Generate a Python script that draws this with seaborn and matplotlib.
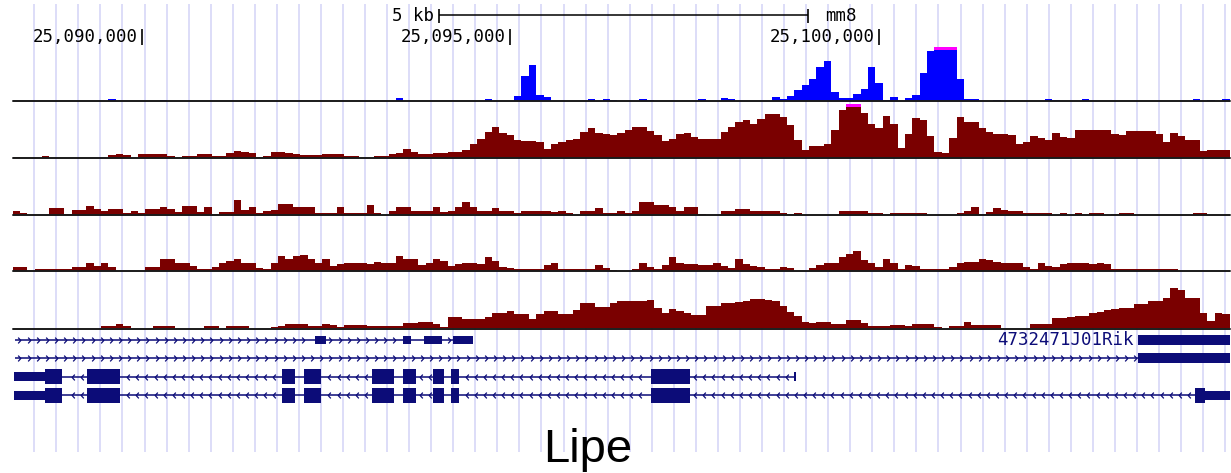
import numpy as np
import pandas as pd
import matplotlib
matplotlib.use("Agg")
import matplotlib.pyplot as plt
from matplotlib.path import Path
import seaborn as sns

# ---------------- data ----------------
chrom_start = 25_088_250          # left edge of the window (bp)
bin_size = 100                    # bp per signal bin
ruler_ticks = [25_090_000, 25_095_000, 25_100_000]
ruler_labels = ["25,090,000", "25,095,000", "25,100,000"]
scale_bar_start = 25_094_035
scale_bar_len = 5_000
scale_bar_label = "5 kb"
assembly = "mm8"
gene_label = "Lipe"
neighbor_label = "4732471J01Rik"

# peak-call track (blue), one value per 100 bp bin
peaks = [
    0, 0, 0, 0, 0, 0, 0, 0, 0, 0,
    0, 0, 0, 2, 0, 0, 0, 0, 0, 0,
    1, 0, 0, 0, 0, 0, 0, 0, 0, 0,
    0, 0, 0, 0, 0, 0, 0, 0, 0, 0,
    0, 0, 0, 0, 0, 0, 0, 0, 0, 0,
    0, 0, 3, 0, 0, 0, 0, 0, 0, 0,
    0, 0, 0, 0, 2, 0, 0, 0, 5, 25,
    36, 6, 4, 0, 0, 0, 0, 0, 2, 0,
    2, 1, 0, 0, 0, 2, 1, 0, 0, 0,
    0, 0, 0, 2, 0, 0, 3, 2, 0, 0,
    0, 0, 0, 4, 2, 5, 11, 16, 22, 34,
    40, 9, 3, 3, 7, 12, 34, 18, 1, 4,
    0, 3, 6, 28, 50, 60, 60, 60, 22, 2,
    2, 0, 0, 1, 0, 0, 0, 0, 0, 0,
    2, 1, 0, 0, 0, 2, 0, 0, 0, 0,
    0, 0, 0, 0, 0, 0, 0, 0, 0, 0,
    2, 0, 1, 0, 2,
]

# coverage tracks (dark red), same bins
signal_1 = [
    1, 0, 0, 0, 2, 0, 0, 0, 0, 0,
    0, 0, 0, 3, 4, 3, 0, 4, 4, 4,
    4, 2, 0, 2, 2, 4, 4, 2, 2, 5,
    7, 6, 5, 1, 2, 6, 6, 5, 4, 3,
    3, 3, 4, 4, 4, 2, 2, 0, 0, 2,
    2, 4, 5, 9, 6, 4, 4, 5, 5, 6,
    6, 8, 14, 19, 26, 31, 25, 23, 18, 17,
    17, 16, 9, 14, 16, 18, 19, 26, 30, 25,
    24, 23, 25, 28, 31, 31, 27, 23, 17, 19,
    24, 25, 21, 19, 19, 19, 26, 31, 36, 38,
    34, 39, 44, 44, 41, 33, 18, 8, 12, 12,
    14, 28, 48, 60, 60, 45, 34, 30, 42, 34,
    10, 24, 40, 38, 22, 6, 5, 20, 41, 36,
    36, 30, 26, 24, 24, 23, 14, 16, 22, 20,
    18, 25, 21, 20, 28, 28, 28, 28, 28, 24,
    23, 27, 27, 27, 27, 24, 16, 25, 22, 18,
    18, 7, 8, 8, 8,
]

signal_2 = [
    4, 2, 0, 0, 0, 7, 7, 1, 5, 5,
    9, 6, 4, 6, 6, 2, 4, 2, 6, 6,
    8, 6, 3, 9, 9, 3, 8, 1, 3, 3,
    15, 5, 8, 2, 4, 5, 11, 11, 8, 8,
    8, 2, 2, 2, 8, 2, 2, 2, 10, 2,
    0, 4, 8, 8, 4, 4, 4, 8, 3, 4,
    8, 13, 8, 4, 4, 7, 4, 4, 2, 4,
    4, 4, 4, 3, 4, 2, 0, 4, 4, 7,
    2, 2, 4, 2, 4, 13, 13, 10, 10, 8,
    4, 8, 8, 1, 0, 0, 4, 4, 6, 6,
    4, 4, 4, 4, 2, 1, 2, 0, 0, 0,
    0, 0, 4, 4, 4, 4, 2, 2, 1, 2,
    2, 2, 2, 2, 0, 0, 0, 0, 2, 4,
    8, 1, 3, 7, 5, 4, 4, 2, 2, 2,
    2, 0, 2, 0, 2, 1, 2, 2, 0, 1,
    2, 2, 0, 0, 0, 0, 0, 0, 0, 0,
    2, 2, 0, 0, 0,
]

signal_3 = [
    4, 4, 0, 2, 2, 2, 2, 2, 4, 4,
    8, 5, 8, 4, 0, 0, 0, 0, 4, 4,
    12, 12, 8, 8, 5, 2, 2, 4, 8, 10,
    12, 8, 8, 3, 2, 8, 15, 12, 15, 16,
    12, 8, 12, 5, 7, 8, 8, 8, 7, 9,
    8, 8, 15, 12, 12, 6, 8, 12, 10, 5,
    7, 8, 8, 7, 14, 10, 4, 3, 2, 2,
    2, 2, 6, 8, 2, 2, 2, 2, 2, 6,
    3, 1, 0, 0, 2, 8, 4, 2, 6, 14,
    8, 7, 7, 6, 6, 8, 5, 3, 12, 7,
    5, 4, 2, 2, 4, 3, 0, 0, 3, 6,
    8, 8, 14, 17, 20, 11, 8, 4, 12, 8,
    2, 6, 5, 2, 2, 2, 2, 4, 8, 9,
    9, 12, 11, 9, 8, 8, 8, 4, 2, 8,
    5, 4, 7, 8, 8, 8, 7, 8, 7, 2,
    2, 2, 2, 2, 2, 2, 2, 2, 0, 0,
    0, 0, 0, 0, 0,
]

signal_4 = [
    0, 0, 0, 0, 0, 0, 0, 0, 0, 0,
    0, 0, 2, 2, 4, 2, 0, 0, 0, 2,
    2, 2, 0, 0, 0, 0, 2, 2, 0, 2,
    2, 2, 0, 0, 0, 1, 2, 4, 4, 4,
    2, 2, 4, 3, 1, 3, 3, 3, 2, 2,
    2, 2, 2, 5, 5, 6, 6, 4, 1, 11,
    11, 9, 9, 9, 11, 15, 15, 17, 14, 14,
    9, 14, 17, 17, 14, 14, 18, 25, 25, 21,
    21, 25, 27, 27, 27, 27, 28, 20, 15, 19,
    17, 15, 13, 13, 22, 22, 25, 25, 26, 27,
    29, 29, 28, 27, 22, 16, 12, 6, 5, 6,
    6, 4, 4, 8, 8, 5, 2, 2, 2, 3,
    3, 2, 4, 4, 4, 1, 0, 2, 2, 6,
    3, 3, 3, 3, 0, 0, 0, 0, 4, 4,
    4, 10, 10, 11, 12, 12, 15, 16, 18, 19,
    20, 20, 24, 24, 27, 27, 30, 40, 38, 30,
    30, 15, 7, 15, 14,
]

# gene models (bp)
plus_tx_span = (25_088_284, 25_094_493)
plus_tx_exons = [(25_092_351, 25_092_500), (25_093_544, 25_093_653),
                 (25_093_829, 25_094_073), (25_094_222, 25_094_493)]
rik_block = (25_103_510, 25_104_750)
long_plus_span = (25_088_284, 25_103_510)

lipe_utr5 = (25_088_270, 25_088_691)
lipe_exons = [(25_088_691, 25_088_921), (25_089_260, 25_089_708),
              (25_091_904, 25_092_080), (25_092_202, 25_092_433),
              (25_093_124, 25_093_422), (25_093_544, 25_093_721),
              (25_093_951, 25_094_100), (25_094_195, 25_094_304),
              (25_096_907, 25_097_436)]
lipe_short_end = (25_098_845, 25_098_872)
lipe_long_exon = (25_104_282, 25_104_418)
lipe_long_utr = (25_104_418, 25_104_750)

# ---------------- styling ----------------
sns.set_style("white")
plt.rcParams["font.family"] = ["DejaVu Sans Mono", "DejaVu Sans"]

W, H = 1231, 473
x0 = chrom_start
x1 = chrom_start + bin_size * len(signal_1)
left_px, width_px = 12.5, 1217.0

RED = "#7a0000"
BLUE = "#0000ff"
CAP = "#ff00ff"
NAVY = "#0c0c78"
GUIDE = "#dadaf8"
TRACK_TOP = 54

fig = plt.figure(figsize=(W / 100, H / 100), dpi=100, facecolor="white")


def px_axes(top_px, bottom_px):
    return fig.add_axes([left_px / W, 1 - bottom_px / H, width_px / W,
                         (bottom_px - top_px) / H])


# background: guide lines, ruler
bg = px_axes(0, H)
bg.set_xlim(x0, x1)
bg.set_ylim(H, 0)
bg.set_axis_off()
guides = np.arange(25_088_545, x1, 299)
bg.vlines(guides, 4, 452, color=GUIDE, lw=1.3, zorder=0)

bg.vlines(ruler_ticks, 29, 45, color="black", lw=1.2)
for t, lab in zip(ruler_ticks, ruler_labels):
    bg.annotate(lab, xy=(t, 37.5), xytext=(-3, 0), textcoords="offset points",
                ha="right", va="center", fontsize=12.5, color="black")

sb0, sb1 = scale_bar_start, scale_bar_start + scale_bar_len
bg.hlines(15.5, sb0, sb1, color="black", lw=1.1)
bg.vlines([sb0, sb1], 9, 23, color="black", lw=1.2)
bg.annotate(scale_bar_label, xy=(sb0, 16), xytext=(-4, 0),
            textcoords="offset points", ha="right", va="center",
            fontsize=12.5, color="black")
bg.annotate(assembly, xy=(sb1, 16), xytext=(12, 0),
            textcoords="offset points", ha="left", va="center",
            fontsize=12.5, color="black")

# signal tracks
edges = [float(e) for e in chrom_start + bin_size * np.arange(len(signal_1) + 1)]
centers = [e + bin_size / 2 for e in edges[:-1]]
tracks = [(peaks, BLUE, 101.0), (signal_1, RED, 158.0), (signal_2, RED, 215.0),
          (signal_3, RED, 271.5), (signal_4, RED, 328.5)]

for values, color, base in tracks:
    ax = px_axes(base - TRACK_TOP, base)
    ax.patch.set_alpha(0)
    df = pd.DataFrame({"pos": centers, "value": values})
    sns.histplot(data=df, x="pos", weights="value", bins=edges, element="step",
                 fill=True, color=color, alpha=1, linewidth=0, ax=ax)
    vals = np.asarray(values, dtype=float)
    over = vals > TRACK_TOP
    if over.any():
        starts = np.asarray(edges[:-1])[over]
        ax.bar(starts, 3.2, bottom=TRACK_TOP - 3.2, width=bin_size,
               align="edge", color=CAP, linewidth=0)
    ax.axhline(0, color="#1a1a1a", lw=1.4, clip_on=False)
    ax.set_xlim(x0, x1)
    ax.set_ylim(0, TRACK_TOP)
    ax.set_axis_off()

# gene track
g = px_axes(330, 405)
g.patch.set_alpha(0)
g.set_xlim(x0, x1)
g.set_ylim(3.533, -0.543)
g.set_axis_off()

right_chev = Path([(-0.45, 1), (0.45, 0), (-0.45, -1)],
                  [Path.MOVETO, Path.LINETO, Path.LINETO])
left_chev = Path([(0.45, 1), (-0.45, 0), (0.45, -1)],
                 [Path.MOVETO, Path.LINETO, Path.LINETO])


def intron(row, span, blocks, marker):
    g.hlines(row, span[0], span[1], color=NAVY, lw=1.1)
    pos = np.arange(span[0] + 60, span[1] - 30, 124)
    keep = [p for p in pos if not any(a - 40 <= p <= b + 40 for a, b in blocks)]
    g.plot(keep, [row] * len(keep), ls="none", marker=marker, ms=4.2,
           mew=0.9, mec=NAVY, mfc="none")


def blocks(row, spans, h):
    g.broken_barh([(a, b - a) for a, b in spans], (row - h / 2, h),
                  facecolor=NAVY, edgecolor="none")


# row 0: short plus-strand transcript + neighbouring gene
intron(0, plus_tx_span, plus_tx_exons, right_chev)
blocks(0, plus_tx_exons, 0.46)
blocks(0, [rik_block], 0.54)
g.annotate(neighbor_label, xy=(rik_block[0], 0), xytext=(-3.5, 0),
           textcoords="offset points", ha="right", va="center",
           fontsize=12.5, color=NAVY)

# row 1: long plus-strand transcript
intron(1, long_plus_span, [], right_chev)
blocks(1, [rik_block], 0.54)

# rows 2-3: Lipe transcripts (minus strand)
row2_span = (lipe_utr5[0], lipe_short_end[1])
intron(2, row2_span, [lipe_utr5] + lipe_exons, left_chev)
blocks(2, [lipe_utr5, lipe_short_end], 0.49)
blocks(2, lipe_exons, 0.815)

row3_span = (lipe_utr5[0], lipe_long_utr[1])
intron(3, row3_span, [lipe_utr5] + lipe_exons + [lipe_long_exon, lipe_long_utr],
       left_chev)
blocks(3, [lipe_utr5, lipe_long_utr], 0.49)
blocks(3, lipe_exons + [lipe_long_exon], 0.815)

fig.text(588 / W, 1 - 462 / H, gene_label, ha="center", va="baseline",
         fontsize=34, family="Liberation Sans", color="black")

fig.savefig("out.png", dpi=100, facecolor="white")
